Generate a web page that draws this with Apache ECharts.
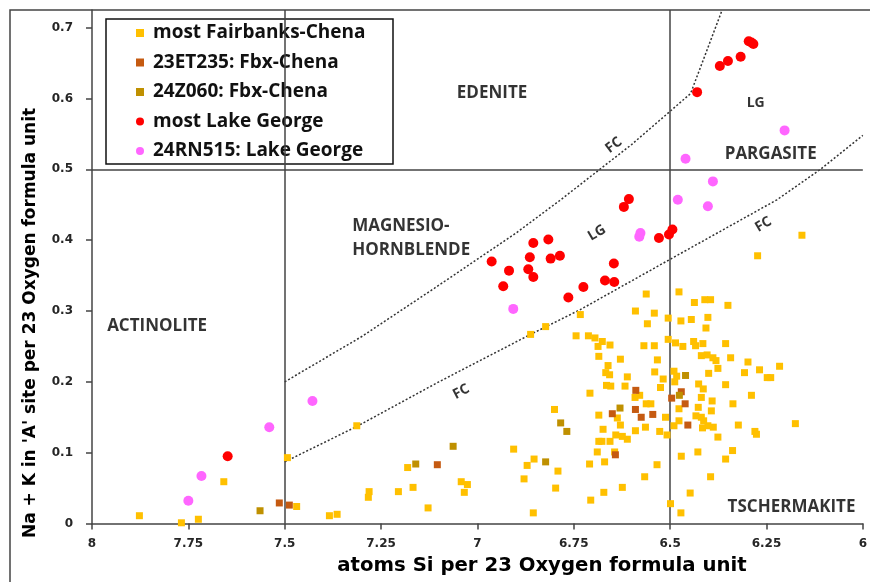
<!DOCTYPE html>
<html>
<head>
<meta charset="utf-8">
<script src="https://cdn.jsdelivr.net/npm/echarts@6/dist/echarts.min.js"></script>
<style>
html, body { margin: 0; padding: 0; background: #fff; }
#main { width: 870px; height: 582px; }
</style>
</head>
<body>
<div id="main"></div>
<script>
// Si atoms (x) vs Na + K in A site (y), per 23 O
var fairbanks = [
    [7.877,0.011],[7.768,0.001],[7.724,0.006],[7.658,0.059],[7.493,0.093],[7.469,0.024],[7.384,0.011],[7.364,0.013],
    [7.313,0.138],[7.281,0.045],[7.283,0.037],[7.205,0.045],[7.181,0.079],[7.167,0.051],[7.128,0.022],[7.042,0.059],
    [7.026,0.055],[7.034,0.044],[6.906,0.105],[6.871,0.082],[6.853,0.091],[6.879,0.063],[6.855,0.015],[6.791,0.074],
    [6.797,0.050],[6.800,0.161],[6.862,0.267],[6.823,0.278],[6.733,0.295],[6.744,0.265],[6.712,0.265],[6.695,0.262],
    [6.687,0.250],[6.676,0.257],[6.656,0.252],[6.685,0.236],[6.629,0.232],[6.661,0.223],[6.667,0.213],[6.657,0.210],
    [6.611,0.207],[6.665,0.195],[6.654,0.194],[6.617,0.194],[6.708,0.184],[6.590,0.300],[6.562,0.324],[6.541,0.297],
    [6.559,0.282],[6.505,0.290],[6.472,0.286],[6.445,0.288],[6.402,0.291],[6.407,0.276],[6.477,0.327],[6.437,0.312],
    [6.410,0.316],[6.395,0.316],[6.350,0.308],[6.568,0.251],[6.541,0.251],[6.505,0.260],[6.486,0.255],[6.467,0.250],
    [6.439,0.257],[6.434,0.251],[6.415,0.254],[6.356,0.254],[6.533,0.231],[6.540,0.214],[6.518,0.204],[6.490,0.215],
    [6.483,0.208],[6.488,0.200],[6.525,0.192],[6.419,0.237],[6.404,0.238],[6.389,0.234],[6.381,0.230],[6.343,0.234],
    [6.376,0.219],[6.400,0.212],[6.298,0.228],[6.307,0.213],[6.268,0.217],[6.248,0.206],[6.239,0.206],[6.216,0.222],
    [6.591,0.178],[6.579,0.181],[6.426,0.197],[6.414,0.190],[6.356,0.196],[6.289,0.181],[6.419,0.178],[6.562,0.169],
    [6.550,0.169],[6.391,0.173],[6.337,0.169],[6.393,0.159],[6.427,0.164],[6.512,0.150],[6.637,0.149],[6.629,0.139],
    [6.685,0.153],[6.674,0.133],[6.590,0.131],[6.564,0.136],[6.527,0.130],[6.508,0.125],[6.477,0.162],[6.477,0.145],
    [6.490,0.138],[6.433,0.152],[6.419,0.150],[6.413,0.145],[6.416,0.135],[6.402,0.138],[6.388,0.136],[6.323,0.139],
    [6.280,0.130],[6.276,0.126],[6.175,0.141],[6.641,0.125],[6.624,0.123],[6.611,0.119],[6.685,0.116],[6.677,0.116],
    [6.656,0.116],[6.376,0.122],[6.689,0.101],[6.644,0.101],[6.670,0.087],[6.709,0.084],[6.534,0.083],[6.471,0.095],
    [6.428,0.101],[6.338,0.103],[6.356,0.091],[6.672,0.044],[6.624,0.051],[6.706,0.033],[6.566,0.066],[6.499,0.028],
    [6.472,0.015],[6.448,0.043],[6.395,0.066],[6.158,0.407],[6.273,0.378]
];
var et235 = [
    [7.514,0.029],[7.488,0.026],[7.104,0.083],[6.589,0.188],[6.650,0.155],[6.590,0.161],[6.575,0.150],
    [6.545,0.154],[6.642,0.097],[6.471,0.186],[6.496,0.177],[6.461,0.169],[6.454,0.139]
];
var z060 = [
    [7.564,0.018],[7.160,0.084],[7.063,0.109],[6.823,0.087],[6.784,0.142],[6.768,0.130],[6.630,0.163],
    [6.460,0.209],[6.476,0.181]
];
var lakeGeorge = [
    [6.296,0.681],[6.284,0.677],[6.289,0.679],[6.317,0.659],[6.350,0.653],[6.371,0.646],[6.430,0.609],
    [6.963,0.370],[6.918,0.357],[6.933,0.335],[6.855,0.396],[6.816,0.401],[6.864,0.376],[6.810,0.374],
    [6.786,0.378],[6.868,0.359],[6.855,0.348],[6.764,0.319],[6.725,0.334],[6.669,0.343],[6.646,0.367],
    [6.645,0.341],[6.529,0.403],[6.503,0.408],[6.494,0.415],[6.620,0.447],[6.607,0.458],[7.648,0.095]
];
var rn515 = [
    [6.203,0.555],[6.460,0.515],[6.389,0.483],[6.480,0.457],[6.402,0.448],[6.577,0.410],[6.580,0.405],
    [6.907,0.303],[7.428,0.173],[7.540,0.136],[7.716,0.067],[7.750,0.032]
];

// FC / LG trend boundaries
var fcUpper = [[7.5,0.2],[7.3,0.264],[7.112,0.332],[6.9,0.41],[6.784,0.457],[6.6,0.535],[6.5,0.582],[6.447,0.607],[6.365,0.725]];
var fcLower = [[7.5,0.087],[7.313,0.137],[7.1,0.2],[6.862,0.267],[6.733,0.302],[6.5,0.373],[6.223,0.457],[6.11,0.5],[6.0,0.548]];

// classification boundaries
var siBounds = [7.5, 6.5];
var akBounds = [0.5];

var zoneNames = ['EDENITE', 'PARGASITE', 'MAGNESIO-\nHORNBLENDE', 'ACTINOLITE', 'TSCHERMAKITE'];
var zoneX = [6.962, 6.239, 7.325, 7.831, 6.185];
var zoneY = [0.608, 0.522, 0.403, 0.279, 0.023];

var trendNames = ['LG', 'LG', 'FC', 'FC', 'FC'];
var trendX = [6.278, 6.69, 6.646, 6.258, 7.042];
var trendY = [0.594, 0.41, 0.534, 0.422, 0.186];
var trendAngle = [0, 30, 37, 30, 28];

var seriesNames = ['most Fairbanks-Chena', '23ET235: Fbx-Chena', '24Z060: Fbx-Chena', 'most Lake George', '24RN515: Lake George'];
var seriesColors = ['#FFC000', '#C55A11', '#BF9000', '#FF0000', '#FF66FF'];

var myChart = echarts.init(document.getElementById('main'));

var labelFont = { fontFamily: 'Open Sans', fontWeight: 'bold', color: '#000' };
var tickFont = { fontFamily: 'DejaVu Sans', fontWeight: 'bold', fontSize: 12, color: '#262626' };

var zoneData = zoneNames.map(function(n, i) {
    return {
        name: n,
        value: [zoneX[i], zoneY[i]],
        label: { align: i == 2 ? 'left' : 'center' }
    };
});
var trendData = trendNames.map(function(n, i) {
    return { name: n, value: [trendX[i], trendY[i]], label: { rotate: trendAngle[i] } };
});

function pointSeries(i, data, symbol, size) {
    return {
        name: seriesNames[i],
        type: 'scatter',
        symbol: symbol,
        symbolSize: size,
        z: 5 + i,
        itemStyle: { color: seriesColors[i], opacity: 1 },
        data: data
    };
}

var option = {
    animation: false,
    grid: { left: 92, right: 6, top: 10, bottom: 58.5 },
    legend: {
        orient: 'vertical',
        left: 136,
        top: 23,
        padding: 0,
        itemWidth: 8,
        itemHeight: 8,
        itemGap: 9.5,
        selectedMode: false,
        textStyle: { fontFamily: 'Open Sans', fontWeight: 'bold', fontSize: 19, color: '#111', lineHeight: 20, padding: [0, 0, 0, 4] },
        data: seriesNames.map(function(n, i) {
            return { name: n, icon: i < 3 ? 'rect' : 'circle' };
        })
    },
    xAxis: {
        type: 'value',
        min: 6,
        max: 8,
        interval: 0.25,
        inverse: true,
        splitLine: { show: false },
        axisLine: { show: true, lineStyle: { color: '#444', width: 1.5 } },
        axisTick: { show: true, length: 6, lineStyle: { color: '#444', width: 1.5 } },
        axisLabel: Object.assign({ margin: 14 }, tickFont)
    },
    yAxis: {
        type: 'value',
        min: 0,
        max: 0.725,
        interval: 0.1,
        splitLine: { show: false },
        axisLine: { show: true, lineStyle: { color: '#444', width: 1.5 } },
        axisTick: { show: true, length: 6, lineStyle: { color: '#444', width: 1.5 } },
        axisLabel: Object.assign({ margin: 19, showMaxLabel: false }, tickFont)
    },
    graphic: [
        { type: 'rect', shape: { x: 10, y: 10, width: 900, height: 620 }, style: { fill: 'none', stroke: '#444', lineWidth: 1.5 }, z: -1 },
        { type: 'rect', shape: { x: 106, y: 19, width: 287, height: 145 }, style: { fill: 'none', stroke: '#111', lineWidth: 1.5 }, z: 1 },
        { type: 'text', x: 542, y: 566, style: { text: 'atoms Si per 23 Oxygen formula unit', font: 'bold 19.7px "DejaVu Sans"', fill: '#000', textAlign: 'center', textVerticalAlign: 'middle' } },
        { type: 'text', x: 31, y: 323, rotation: Math.PI / 2, style: { text: "Na + K in 'A' site per 23 Oxygen formula unit", font: 'bold 17px "DejaVu Sans"', fill: '#000', textAlign: 'center', textVerticalAlign: 'middle' } }
    ],
    series: [
        {
            name: 'zones',
            type: 'scatter',
            symbolSize: 0,
            silent: true,
            z: 1,
            label: Object.assign({ show: true, position: 'inside', formatter: '{b}', fontSize: 17, lineHeight: 24 }, labelFont),
            data: zoneData,
            markLine: {
                silent: true,
                symbol: ['none', 'none'],
                label: { show: false },
                lineStyle: { color: '#444', type: 'solid', width: 1.5 },
                data: siBounds.map(function(v) { return { xAxis: v }; }).concat(akBounds.map(function(v) { return { yAxis: v }; }))
            }
        },
        {
            name: 'trends',
            type: 'scatter',
            symbolSize: 0,
            silent: true,
            z: 1,
            label: Object.assign({ show: true, position: 'inside', formatter: '{b}', fontSize: 14 }, labelFont),
            data: trendData
        },
        {
            name: 'FC upper',
            type: 'line',
            showSymbol: false,
            silent: true,
            z: 2,
            lineStyle: { color: '#333', width: 1.5, type: [2, 2] },
            data: fcUpper
        },
        {
            name: 'FC lower',
            type: 'line',
            showSymbol: false,
            silent: true,
            z: 2,
            lineStyle: { color: '#333', width: 1.5, type: [2, 2] },
            data: fcLower
        },
        pointSeries(0, fairbanks, 'rect', 7),
        pointSeries(1, et235, 'rect', 7),
        pointSeries(2, z060, 'rect', 7),
        pointSeries(3, lakeGeorge, 'circle', 10),
        pointSeries(4, rn515, 'circle', 10)
    ]
};

myChart.setOption(option);
</script>
</body>
</html>
